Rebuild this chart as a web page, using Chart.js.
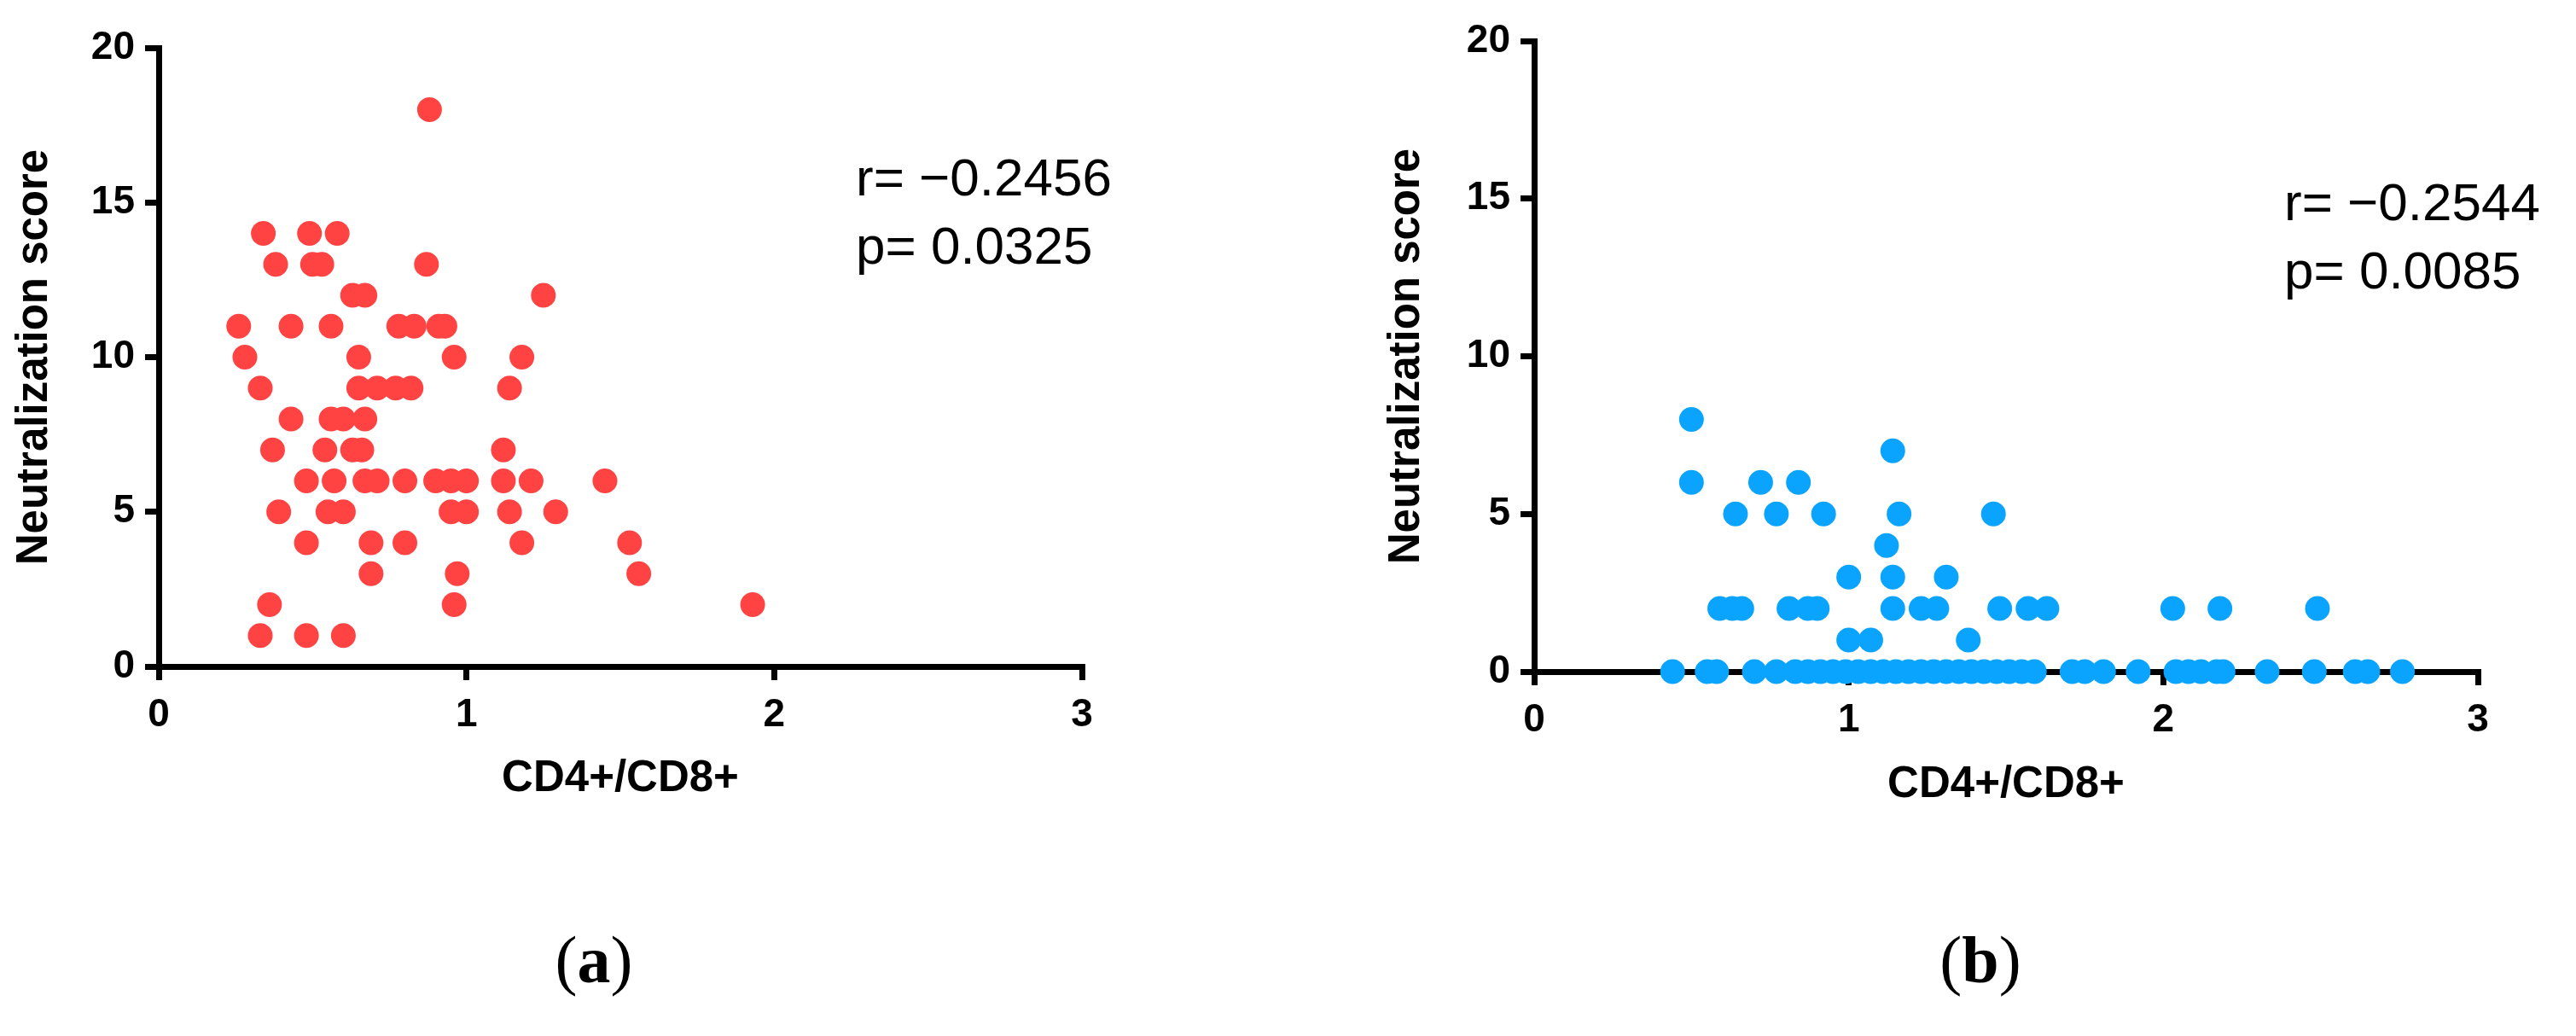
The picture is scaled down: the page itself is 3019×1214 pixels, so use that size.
<!DOCTYPE html>
<html>
<head>
<meta charset="utf-8">
<script src="https://cdn.jsdelivr.net/npm/chart.js@4/dist/chart.umd.min.js"></script>
<style>
  body { margin: 0; width: 3019px; height: 1214px; background: #fff; position: relative; overflow: hidden; }
  canvas { position: absolute; }
  .stat { position: absolute; font-family: "Liberation Sans", Arial, sans-serif; font-size: 62px; line-height: 80px; color: #000; white-space: nowrap; }
  .panel { position: absolute; font-family: "Liberation Serif", "Times New Roman", serif; font-size: 78px; transform: translateX(-50%); }
</style>
</head>
<body>
<canvas id="chartA" style="left:0px;top:0px;width:1450px;height:944px"></canvas>
<canvas id="chartB" style="left:1600px;top:0px;width:1419px;height:951px"></canvas>
<div class="stat" style="left:1003px;top:168px">r= &minus;0.2456<br>p= 0.0325</div>
<div class="stat" style="left:2677px;top:197px">r= &minus;0.2544<br>p= 0.0085</div>
<div class="panel" style="left:696px;top:1080px">(<b>a</b>)</div>
<div class="panel" style="left:2321px;top:1080px">(<b>b</b>)</div>
<script>
// panel (a): CD4+/CD8+ ratio vs neutralization score
var aRatio = [0.88,
  0.34,0.49,0.58,
  0.38,0.50,0.53,0.87,
  0.63,0.67,1.25,
  0.26,0.43,0.56,0.78,0.83,0.91,0.93,
  0.28,0.65,0.96,1.18,
  0.33,0.65,0.71,0.77,0.82,1.14,
  0.43,0.56,0.60,0.67,
  0.37,0.54,0.63,0.66,1.12,
  0.48,0.57,0.67,0.71,0.80,0.90,0.95,1.00,1.12,1.21,1.45,
  0.39,0.55,0.60,0.95,1.00,1.14,1.29,
  0.48,0.69,0.80,1.18,1.53,
  0.69,0.97,1.56,
  0.36,0.96,1.93,
  0.33,0.48,0.60];
var aScore = [18,
  14,14,14,
  13,13,13,13,
  12,12,12,
  11,11,11,11,11,11,11,
  10,10,10,10,
  9,9,9,9,9,9,
  8,8,8,8,
  7,7,7,7,7,
  6,6,6,6,6,6,6,6,6,6,6,
  5,5,5,5,5,5,5,
  4,4,4,4,4,
  3,3,3,
  2,2,2,
  1,1,1];

// panel (b)
var bRatio = [0.50,
  1.14,
  0.50,0.72,0.84,
  0.64,0.77,0.92,1.16,1.46,
  1.12,
  1.00,1.14,1.31,
  0.59,0.63,0.66,0.81,0.87,0.90,1.14,1.23,1.28,1.48,1.57,1.63,2.03,2.18,2.49,
  1.00,1.07,1.38,
  0.44,0.55,0.58,0.70,0.77,0.83,0.87,0.91,0.95,0.99,1.03,1.07,1.11,1.15,1.19,1.23,1.27,1.31,1.35,1.39,1.43,1.47,1.51,1.55,1.59,
  1.71,1.75,1.81,1.92,2.04,2.08,2.12,2.17,2.19,2.33,2.48,2.61,2.65,2.76];
var bScore = [8,
  7,
  6,6,6,
  5,5,5,5,5,
  4,
  3,3,3,
  2,2,2,2,2,2,2,2,2,2,2,2,2,2,2,
  1,1,1,
  0,0,0,0,0,0,0,0,0,0,0,0,0,0,0,0,0,0,0,0,0,0,0,0,0,
  0,0,0,0,0,0,0,0,0,0,0,0,0,0];

var xTicks = [0, 1, 2, 3];
var yTicks = [0, 5, 10, 15, 20];

function points(xs, ys) {
  return xs.map(function(x, i) { return {x: x, y: ys[i]}; });
}

function draw_scatter(id, xs, ys, color, pad, yWidth, xHeight) {
  var tickFont = {family: '"Liberation Sans Narrow", "Liberation Sans", Arial', size: 46, weight: 'bold'};
  var titleFont = {family: '"Liberation Sans", Arial', size: 51, weight: 'bold'};
  var axisGrid = {drawOnChartArea: false, drawTicks: true, tickLength: 16, lineWidth: 7, color: '#000'};
  new Chart(document.getElementById(id), {
    type: 'scatter',
    data: {
      datasets: [{
        data: points(xs, ys),
        backgroundColor: color,
        borderWidth: 0,
        pointRadius: 14.5,
        pointHoverRadius: 14.5,
        clip: false
      }]
    },
    options: {
      responsive: false,
      animation: false,
      devicePixelRatio: 1,
      layout: {padding: pad},
      plugins: {legend: {display: false}, tooltip: {enabled: false}},
      scales: {
        x: {
          type: 'linear', min: 0, max: 3,
          afterBuildTicks: function(s) { s.ticks = xTicks.map(function(v) { return {value: v}; }); },
          afterFit: function(s) { s.height = xHeight; },
          grid: axisGrid,
          border: {display: true, width: 7, color: '#000'},
          ticks: {font: tickFont, color: '#000', padding: 14, maxRotation: 0},
          title: {display: true, text: 'CD4+/CD8+', font: titleFont, color: '#000', padding: 0}
        },
        y: {
          type: 'linear', min: 0, max: 20,
          afterBuildTicks: function(s) { s.ticks = yTicks.map(function(v) { return {value: v}; }); },
          afterFit: function(s) { s.width = yWidth; },
          grid: axisGrid,
          border: {display: true, width: 7, color: '#000'},
          ticks: {font: tickFont, color: '#000', padding: 12},
          title: {display: true, text: 'Neutralization score', font: titleFont, color: '#000', padding: 0}
        }
      }
    }
  });
}

function size(canvas, w, h) { canvas.width = w; canvas.height = h; }
size(document.getElementById('chartA'), 1450, 944);
size(document.getElementById('chartB'), 1419, 951);

draw_scatter('chartA', aRatio, aScore, '#FF4242', {left: 10, top: 56, right: 182, bottom: 0}, 176, 163);
draw_scatter('chartB', bRatio, bScore, '#0AA4FF', {left: 18, top: 48, right: 115, bottom: 0}, 180, 164);
</script>
</body>
</html>
